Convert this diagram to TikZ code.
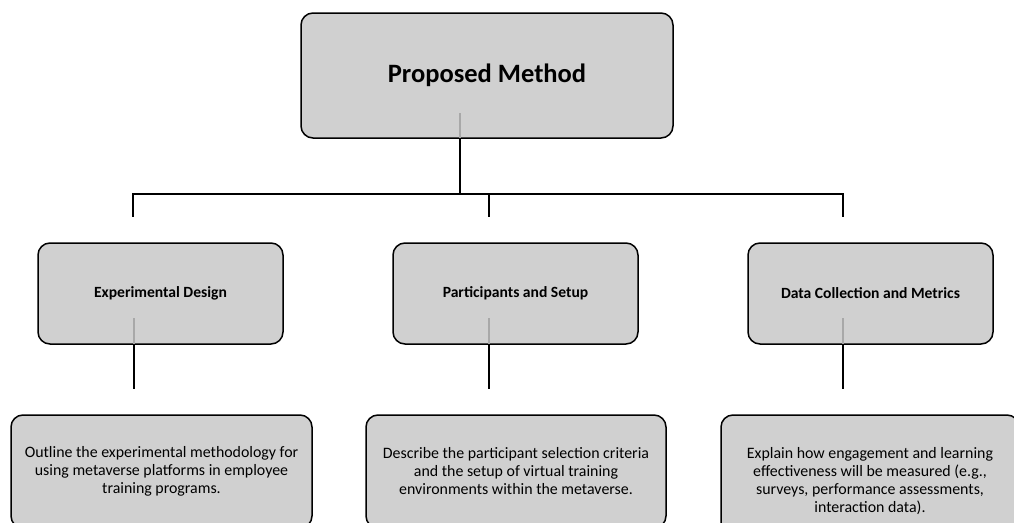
\documentclass[tikz,border=0pt]{standalone}
\usepackage{fontspec}
\setmainfont{Carlito}
\definecolor{boxfill}{HTML}{D0D0D0}
\definecolor{stub}{HTML}{A8A8A8}
\tikzset{
  box/.style={draw=black, line width=1.5pt, fill=boxfill, rounded corners=12pt,
    align=center, inner sep=0pt},
  topbox/.style={box, minimum width=372pt, minimum height=125pt,
    font=\fontsize{26.5}{32}\selectfont\bfseries},
  midbox/.style={box, minimum width=245pt, minimum height=101pt,
    font=\fontsize{15.6}{19}\selectfont\bfseries},
  lowbox/.style={box, font=\fontsize{15.9}{18}\selectfont},
  conn/.style={draw=black, line width=2pt},
  inner/.style={draw=stub, line width=2pt}
}
\begin{document}
\begin{tikzpicture}[x=1pt,y=-1pt]
\clip (0,0) rectangle (1014,522);
\fill[white] (0,0) rectangle (1014,522);
% boxes
\node[topbox] (top) at (487,75.5) {Proposed Method};
\node[midbox] (m1) at (160.5,293.5) {Experimental Design};
\node[midbox] (m2) at (515.5,293.5) {Participants and Setup};
\node[midbox] (m3) at (870.5,293.5) {Data Collection and Metrics};
\node[lowbox, minimum width=301pt, minimum height=113pt] (b1) at (161.5,471.5)
  {Outline the experimental methodology for\\using metaverse platforms in employee\\training programs.};
\node[lowbox, minimum width=300pt, minimum height=113pt] (b2) at (516,471.5)
  {Describe the participant selection criteria\\and the setup of virtual training\\environments within the metaverse.};
\node[lowbox, minimum width=298pt, minimum height=133pt] (b3) at (870,481.5)
  {Explain how engagement and learning\\effectiveness will be measured (e.g.,\\surveys, performance assessments,\\interaction data).};
% connector points
\coordinate (ts) at (460,113);
\coordinate (tb) at (460,138);
\coordinate (j) at (460,194);
\coordinate (j1) at (133,194);
\coordinate (j2) at (489,194);
\coordinate (j3) at (843,194);
\coordinate (d1) at (133,217);
\coordinate (d2) at (489,217);
\coordinate (d3) at (843,217);
\coordinate (s1) at (134,318);
\coordinate (s2) at (489,318);
\coordinate (s3) at (843,318);
\coordinate (e1) at (134,344);
\coordinate (e2) at (489,344);
\coordinate (e3) at (843,344);
\coordinate (f1) at (134,389);
\coordinate (f2) at (489,389);
\coordinate (f3) at (843,389);
% inner stubs
\draw[inner] (ts) -- (tb);
\draw[inner] (s1) -- (e1);
\draw[inner] (s2) -- (e2);
\draw[inner] (s3) -- (e3);
% connectors
\draw[conn] (tb) -- (j);
\draw[conn, line cap=rect] (j1) -- (j3);
\draw[conn] (j1) -- (d1);
\draw[conn] (j2) -- (d2);
\draw[conn] (j3) -- (d3);
\draw[conn] (e1) -- (f1);
\draw[conn] (e2) -- (f2);
\draw[conn] (e3) -- (f3);
\end{tikzpicture}
\end{document}
